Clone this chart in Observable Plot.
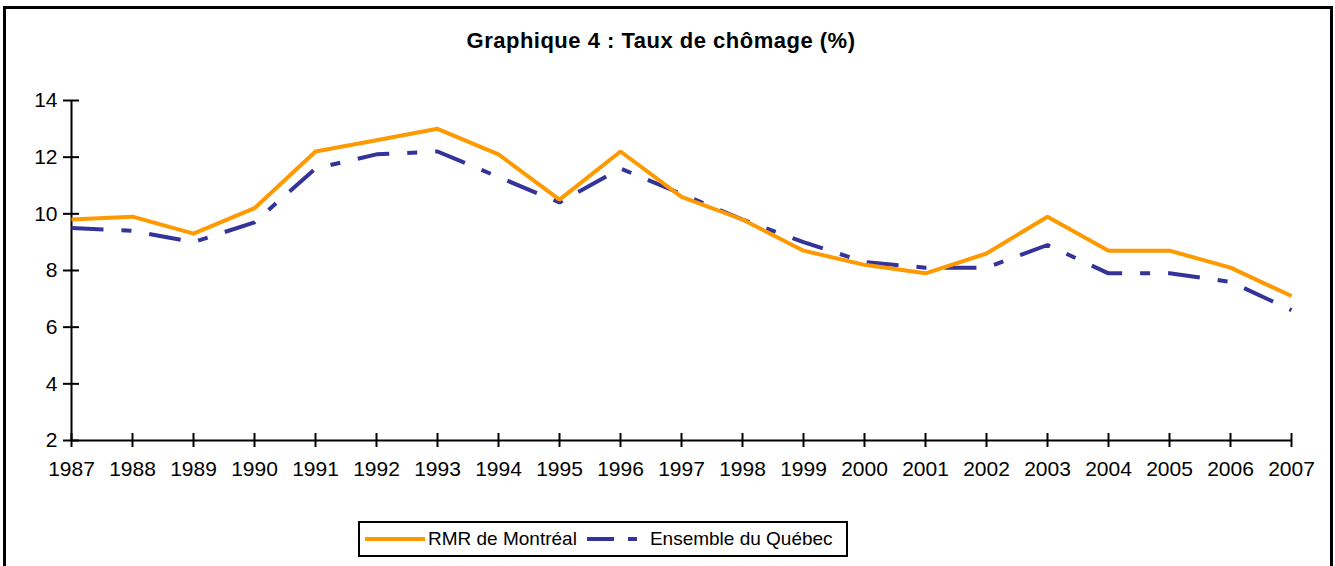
<!DOCTYPE html>
<html>
<head>
<meta charset="utf-8">
<script src="https://cdn.jsdelivr.net/npm/d3@7"></script>
<script src="https://cdn.jsdelivr.net/npm/@observablehq/plot@0.6"></script>
<style>
  html, body { margin: 0; padding: 0; width: 1335px; height: 566px; overflow: hidden; background: #fff; }
  body { font-family: "Liberation Sans", Arial, sans-serif; color: #000; position: relative; }
  #frame { position: absolute; left: 3px; top: 6px; width: 1330px; height: 620px; border: 3px solid #000; box-sizing: border-box; }
  #title { position: absolute; left: 0; top: 28px; width: 1322px; text-align: center; font-weight: bold; font-size: 22px; letter-spacing: 0.5px; }
  #chart { position: absolute; left: 0; top: 70px; }
  #legend { position: absolute; left: 358px; top: 521px; width: 490px; height: 36px; border: 2px solid #000; box-sizing: border-box; display: flex; align-items: center; font-size: 19px; white-space: nowrap; }
  #legend svg { display: block; }
</style>
</head>
<body>
<div id="frame"></div>
<div id="title">Graphique 4 : Taux de chômage (%)</div>
<div id="chart"></div>
<div id="legend"></div>
<script>
const years = [1987, 1988, 1989, 1990, 1991, 1992, 1993, 1994, 1995, 1996, 1997, 1998, 1999, 2000, 2001, 2002, 2003, 2004, 2005, 2006, 2007];
const montreal = [9.8, 9.9, 9.3, 10.2, 12.2, 12.6, 13.0, 12.1, 10.5, 12.2, 10.6, 9.8, 8.7, 8.2, 7.9, 8.6, 9.9, 8.7, 8.7, 8.1, 7.1];
const quebec = [9.5, 9.4, 9.0, 9.7, 11.6, 12.1, 12.2, 11.3, 10.4, 11.6, 10.7, 9.8, 9.0, 8.3, 8.1, 8.1, 8.9, 7.9, 7.9, 7.6, 6.6];
const yTicks = [2, 4, 6, 8, 10, 12, 14];
const seriesNames = ["RMR de Montréal", "Ensemble du Québec"];
const colors = ["#FF9900", "#333399"];

const dataM = years.map((y, i) => ({year: y, value: montreal[i]}));
const dataQ = years.map((y, i) => ({year: y, value: quebec[i]}));

const chart = Plot.plot({
  width: 1335,
  height: 420,
  marginTop: 30,
  marginBottom: 50,
  marginLeft: 71,
  marginRight: 44,
  style: { fontFamily: "Liberation Sans, Arial, sans-serif", fontSize: "21px", color: "#000", background: "transparent", overflow: "visible" },
  x: { type: "linear", domain: [years[0], years[years.length - 1]], axis: null, label: null },
  y: { domain: [yTicks[0], yTicks[yTicks.length - 1]], axis: null, label: null },
  marks: [
    Plot.ruleY([yTicks[0]], { stroke: "#000", strokeWidth: 2 }),
    Plot.ruleX([years[0]], { stroke: "#000", strokeWidth: 2 }),
    Plot.ruleX(years, { x: d => d, y1: yTicks[0], y2: yTicks[0], insetTop: -7, insetBottom: -7, stroke: "#000", strokeWidth: 2 }),
    Plot.ruleY(yTicks, { y: d => d, x1: years[0], x2: years[0], insetLeft: -8, insetRight: -8, stroke: "#000", strokeWidth: 2 }),
    Plot.axisX({ ticks: years, tickFormat: d => String(d), tickSize: 0, tickPadding: 21, fontSize: 21, label: null }),
    Plot.axisY({ ticks: yTicks, tickFormat: d => String(d), tickSize: 0, tickPadding: 14, fontSize: 21, label: null }),
    Plot.line(dataQ, { x: "year", y: "value", stroke: colors[1], strokeWidth: 4, strokeDasharray: "32,18,10,18", strokeLinecap: "butt", strokeLinejoin: "miter" }),
    Plot.line(dataM, { x: "year", y: "value", stroke: colors[0], strokeWidth: 4, strokeLinecap: "butt", strokeLinejoin: "miter" })
  ]
});
document.getElementById("chart").appendChild(chart);

const legend = document.getElementById("legend");
legend.innerHTML = `
  <svg width="66" height="20" style="margin-left:5px"><line x1="0" y1="10" x2="60" y2="10" stroke="${colors[0]}" stroke-width="4"/></svg>
  <span style="margin-left:-3px">${seriesNames[0]}</span>
  <svg width="60" height="20" style="margin-left:10px"><line x1="0" y1="10" x2="50" y2="10" stroke="${colors[1]}" stroke-width="4" stroke-dasharray="27,14,9,14"/></svg>
  <span style="margin-left:3px">${seriesNames[1]}</span>
`;
</script>
</body>
</html>
